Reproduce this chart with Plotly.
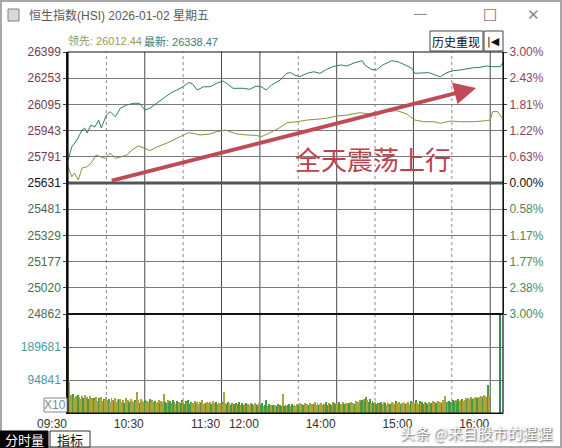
import plotly.graph_objects as go

DAY = "2026-01-02"

# ---------------- data ----------------
price_times = ["09:30","09:33","09:37","09:41","09:43","09:45","09:48","09:51","09:54","09:56",
               "10:00","10:03","10:07","10:11","10:16","10:21","10:26","10:30","10:34","10:39",
               "10:44","10:50","10:55","11:00","11:04","11:07","11:11","11:16","11:21","11:26",
               "11:31","11:34","11:39","11:47","11:52","11:57","13:01","13:05","13:09","13:16",
               "13:21","13:24","13:27","13:31","13:37","13:42","13:47","13:52","13:57","14:03",
               "14:08","14:14","14:20","14:22","14:27","14:31","14:36","14:43","14:48","14:53",
               "14:59","15:01","15:06","15:12","15:17","15:21","15:26","15:31","15:36","15:42",
               "15:47","15:52","15:57","16:01","16:08","16:10"]
price_values = [25765,25843,25883,25941,25953,25924,25971,25959,26000,25953,
                26029,26049,26019,26070,26088,26098,26098,26059,26069,26098,
                26127,26157,26176,26195,26219,26215,26176,26195,26195,26215,
                26229,26215,26186,26186,26180,26199,26195,26176,26205,26235,
                26274,26278,26264,26254,26274,26283,26274,26297,26313,26323,
                26317,26336,26348,26323,26297,26293,26323,26348,26342,26323,
                26303,26274,26274,26278,26264,26254,26278,26289,26293,26303,
                26307,26309,26317,26313,26313,26338]

lead_times = ["09:30","09:33","09:35","09:38","09:41","09:45","09:48","09:52","09:55","09:59",
              "10:03","10:07","10:12","10:16","10:20","10:25","10:30","10:34","10:39","10:44",
              "10:50","10:55","11:00","11:04","11:08","11:13","11:21","11:26","11:33","11:37",
              "11:42","11:50","11:57","13:01","13:07","13:16","13:21","13:29","13:37","13:44",
              "13:52","14:00","14:08","14:18","14:25","14:31","14:39","14:47","14:55","15:01",
              "15:08","15:16","15:21","15:29","15:36","15:47","15:57","16:00","16:02","16:06","16:09"]
lead_values = [25726,25667,25689,25648,25718,25726,25746,25795,25785,25775,
               25805,25775,25785,25795,25824,25848,25834,25820,25840,25853,
               25873,25893,25912,25925,25922,25912,25918,25931,25941,25931,
               25918,25912,25910,25902,25922,25957,25984,25990,26000,26004,
               26010,26023,26029,26043,26035,26029,26049,26055,26035,26000,
               25990,25990,25981,25994,25990,25990,25996,26000,26049,26049,26012]

# volume per minute, in thousands (09:30-11:59, 13:00-15:59)
vol_morning_k = [244,88,52,47,55,44,50,41,53,46,
                 39,48,43,51,37,45,40,49,36,44,
                 42,38,47,35,43,39,46,34,41,37,
                 45,36,40,33,44,38,35,42,31,39,
                 36,41,33,38,30,43,34,37,32,40,
                 35,31,38,33,61,36,30,39,34,32,
                 37,29,35,33,40,28,36,31,34,30,
                 33,38,29,35,31,55,32,28,36,30,
                 34,29,37,31,27,35,30,33,28,36,
                 31,27,34,29,38,26,32,30,28,35,
                 29,33,26,31,28,36,27,30,25,32,
                 28,31,26,34,29,27,33,25,30,28,
                 32,27,61,29,26,31,28,24,30,27,
                 25,29,23,27,31,24,28,22,26,29,
                 24,27,22,28,25,23,30,26,24,28]
vol_afternoon_k = [26,22,29,20,24,37,21,25,19,23,
                   22,18,24,20,26,19,23,21,55,20,
                   24,19,22,27,20,25,18,23,21,26,
                   22,28,20,25,23,30,21,26,24,29,
                   23,27,25,31,22,28,24,26,30,23,
                   27,25,32,24,29,26,23,31,28,25,
                   29,24,31,27,25,33,26,28,30,24,
                   28,32,25,30,27,35,29,33,38,31,
                   36,40,34,46,37,33,39,30,35,28,
                   32,27,30,25,29,33,26,31,28,24,
                   30,27,25,32,28,26,34,29,27,31,
                   26,30,28,33,25,29,31,27,35,30,
                   33,28,36,30,27,34,29,32,26,31,
                   29,27,33,30,28,35,26,31,29,34,
                   30,33,28,36,31,49,32,29,35,33,
                   31,36,34,38,32,40,35,37,39,34,
                   38,42,36,44,40,46,39,43,41,45,
                   42,47,44,49,45,51,48,46,80,50]
auction_time = "16:08"
auction_volume_k = 300

left_price_labels = ["26399","26253","26095","25943","25791","25631",
                     "25481","25329","25177","25020","24862"]
right_pct_labels = ["3.00%","2.43%","1.81%","1.22%","0.63%","0.00%",
                    "0.58%","1.17%","1.77%","2.38%","3.00%"]
vol_tick_values = [189681, 94841]
vol_tick_labels = ["189681", "94841"]
time_tick_values = ["09:30","10:30","11:30","13:00","14:00","15:00","16:00"]
time_tick_labels = ["09:30","10:30","11:30","12:00","14:00","15:00","16:00"]
prev_close = 25631
price_high, price_low = 26399, 24862
vol_unit = 94841
lead_last_text = "26012.44"
price_last_text = "26338.47"

# ---------------- helpers ----------------
def t(hm):
    return f"{DAY} {hm}"

def minutes(h0, m0, h1, m1):
    out = []
    h, m = h0, m0
    while (h, m) < (h1, m1):
        out.append(f"{h:02d}:{m:02d}")
        m += 1
        if m == 60:
            h, m = h + 1, 0
    return out

vol_times = minutes(9, 30, 12, 0) + minutes(13, 0, 16, 0) + [auction_time]
vol_values = [v * 1000 for v in vol_morning_k + vol_afternoon_k] + [auction_volume_k * 1000]

W, H = 562, 448
L, R, T, B = 68, 59, 52, 35
PW, PH = W - L - R, H - T - B
def px(x):
    return (x - L) / PW
def py(y):
    return (H - B - y) / PH

VOL_FRAC = 99 / PH

# bar colours (style): greenish in some windows, olive-yellow elsewhere
green_windows = [("10:45","11:05"),("11:35","11:50"),("13:00","13:25"),("13:50","14:00"),
                 ("14:18","14:36"),("15:05","15:12"),("15:28","15:35")]
YEL, GRN = "#ada33a", "#4a9a45"
bar_colors = []
for i, tm in enumerate(vol_times):
    in_g = any(a <= tm <= b for a, b in green_windows)
    if tm == auction_time:
        bar_colors.append("#2f8a5a")
    elif in_g:
        bar_colors.append(YEL if i % 3 == 0 else GRN)
    else:
        bar_colors.append(GRN if i % 4 == 0 else YEL)

MAROON, DKGREEN, TEAL = "#7a3a4e", "#4b6d4f", "#4a9aa2"
def lab_color(i):
    return MAROON if i < 5 else ("#111111" if i == 5 else DKGREEN)

n = len(left_price_labels)
price_tickvals = [price_high - i * (price_high - price_low) / (n - 1) for i in range(n)]
price_ticktext = [f"<span style='color:{lab_color(i)}'>{s}</span>" for i, s in enumerate(left_price_labels)]
pct_tickvals = [3 - i * 0.6 for i in range(n)]
pct_colors = ["#8a4656"] * 5 + ["#111111"] + ["#4d8a5a"] * 5
pct_ticktext = [f"<span style='color:{pct_colors[i]}'>{s}</span>" for i, s in enumerate(right_pct_labels)]

FONT = "Liberation Sans, Arial, sans-serif"
CJK = "Liberation Sans, Noto Sans CJK SC, sans-serif"
CJK_ONLY = "Noto Sans CJK SC, sans-serif"

fig = go.Figure()
fig.add_trace(go.Scatter(x=[t(s) for s in lead_times], y=lead_values, mode="lines",
                         line=dict(color="#8e8d42", width=1), xaxis="x", yaxis="y",
                         showlegend=False, hoverinfo="skip"))
fig.add_trace(go.Scatter(x=[t(s) for s in price_times], y=price_values, mode="lines",
                         line=dict(color="#2e7a6c", width=1), xaxis="x", yaxis="y",
                         showlegend=False, hoverinfo="skip"))
fig.add_trace(go.Bar(x=[t(s) for s in vol_times], y=vol_values, width=45000,
                     marker=dict(color=bar_colors, line=dict(width=0)),
                     xaxis="x", yaxis="y2", showlegend=False, hoverinfo="skip"))
fig.add_trace(go.Scatter(x=[t("09:30")], y=[0], mode="markers", marker=dict(opacity=0),
                         xaxis="x", yaxis="y3", showlegend=False, hoverinfo="skip"))

shapes = []
for hm in ["10:30","11:30","13:00","14:00","15:00","16:00"]:
    shapes.append(dict(type="line", xref="x", yref="paper", x0=t(hm), x1=t(hm), y0=0, y1=1,
                       line=dict(color="#4a4a4a", width=1), layer="below"))
for hm in ["10:00","11:00","13:30","14:30","15:30"]:
    shapes.append(dict(type="line", xref="x", yref="paper", x0=t(hm), x1=t(hm), y0=0, y1=1,
                       line=dict(color="#8a8a8a", width=1, dash="dot"), layer="below"))
shapes.append(dict(type="line", xref="paper", yref="y", x0=0, x1=1, y0=prev_close, y1=prev_close,
                   line=dict(color="#555555", width=3)))
shapes.append(dict(type="line", xref="paper", yref="paper", x0=0, x1=1, y0=VOL_FRAC, y1=VOL_FRAC,
                   line=dict(color="#111111", width=2)))
shapes.append(dict(type="rect", xref="paper", yref="paper", x0=0, x1=1, y0=0, y1=1,
                   line=dict(color="#111111", width=1.2)))
shapes.append(dict(type="rect", xref="paper", yref="paper", x0=px(1), x1=px(561), y0=py(447), y1=py(1),
                   line=dict(color="#a8a8a8", width=2)))
shapes.append(dict(type="rect", xref="paper", yref="paper", x0=px(8), x1=px(19), y0=py(21), y1=py(9),
                   line=dict(color="#808080", width=1), fillcolor="#d8d8d8"))
shapes.append(dict(type="rect", xref="paper", yref="paper", x0=px(430), x1=px(483), y0=py(51), y1=py(31),
                   line=dict(color="#444444", width=1), fillcolor="#ffffff"))
shapes.append(dict(type="rect", xref="paper", yref="paper", x0=px(484), x1=px(503), y0=py(51), y1=py(31),
                   line=dict(color="#444444", width=1), fillcolor="#ffffff"))
shapes.append(dict(type="rect", xref="paper", yref="paper", x0=px(0), x1=px(48), y0=py(448), y1=py(431),
                   line=dict(color="#000000", width=1), fillcolor="#000000"))
shapes.append(dict(type="rect", xref="paper", yref="paper", x0=px(50), x1=px(90), y0=py(447), y1=py(431),
                   line=dict(color="#333333", width=1), fillcolor="#ffffff"))
shapes.append(dict(type="rect", xref="paper", yref="paper", x0=px(44), x1=px(67), y0=py(412), y1=py(398),
                   line=dict(color="#7a8a9a", width=1), fillcolor="#ffffff"))

ann = []
def text(x, y, s, size=12, color="#333", family=FONT, xanchor="left", **kw):
    ann.append(dict(xref="paper", yref="paper", x=px(x), y=py(y), text=s, showarrow=False,
                    xanchor=xanchor, yanchor="middle", font=dict(size=size, color=color, family=family), **kw))

text(27, 15, "恒生指数(HSI) 2026-01-02 星期五", size=12, color="#5a5a5a", family=CJK)
text(420, 14, "—", size=13, color="#888888", xanchor="center")
text(490, 15, "☐", size=16, color="#777777", xanchor="center", family="DejaVu Sans")
text(533, 15, "✕", size=15, color="#888888", xanchor="center", family="DejaVu Sans")
text(66, 41, f"领先: {lead_last_text}", size=11, color="#9a9a55", family=CJK)
text(142, 41, f"最新: {price_last_text}", size=11, color="#3d7b7b", family=CJK)
text(456, 41, "历史重现", size=12, color="#111111", family=CJK_ONLY, xanchor="center")
text(493, 41, "|◀", size=11, color="#111111", family="DejaVu Sans", xanchor="center")
text(55, 405, "X10", size=12, color="#7a8a9a", xanchor="center")
text(24, 439, "分时量", size=13, color="#ffffff", family=CJK_ONLY, xanchor="center")
text(70, 439, "指标", size=13, color="#111111", family=CJK_ONLY, xanchor="center")
text(373, 158, "全天震荡上行", size=26, color="#b8434f", family=CJK_ONLY, xanchor="center")
text(476, 432, "头条 @来自股市的猩猩", size=15, color="#ffffff", family=CJK_ONLY, xanchor="center")
ann[-1]["font"]["shadow"] = "1px 1px 2px #444"

ann.append(dict(xref="x", yref="y", axref="x", ayref="y", x=t("15:49"), y=26188,
                ax=t("10:03"), ay=25642, text="", showarrow=True, arrowhead=2,
                arrowsize=1.1, arrowwidth=4, arrowcolor="#c04a56"))

fig.update_layout(
    width=W, height=H,
    margin=dict(l=L, r=R, t=T, b=B, pad=0),
    paper_bgcolor="#ffffff", plot_bgcolor="#ffffff",
    bargap=0, showlegend=False,
    font=dict(family=FONT, size=12, color="#333"),
    xaxis=dict(type="date", range=[t("09:30"), t("16:10")],
               rangebreaks=[dict(bounds=[12, 13], pattern="hour")],
               anchor="y2", tickvals=[t(v) for v in time_tick_values], ticktext=time_tick_labels,
               ticks="", showgrid=False, zeroline=False, showline=True, linecolor="#111", linewidth=1,
               tickfont=dict(size=12, color="#333"), ticklabelshift=-16, fixedrange=True),
    yaxis=dict(domain=[VOL_FRAC, 1], range=[price_low, price_high], anchor="x",
               tickvals=price_tickvals, ticktext=price_ticktext, tickmode="array",
               showgrid=True, gridcolor="#7a7a7a", gridwidth=1, zeroline=False,
               ticks="outside", ticklen=3, tickcolor="#444", showline=True, linecolor="#111", linewidth=1.5,
               tickfont=dict(size=12), fixedrange=True),
    yaxis2=dict(domain=[0, VOL_FRAC], range=[0, 3 * vol_unit], anchor="x",
                tickvals=vol_tick_values,
                ticktext=[f"<span style='color:{TEAL}'>{s}</span>" for s in vol_tick_labels],
                showgrid=True, gridcolor="#7a7a7a", gridwidth=1, zeroline=False,
                ticks="outside", ticklen=3, tickcolor="#444", showline=True, linecolor="#111", linewidth=1.5,
                tickfont=dict(size=12), fixedrange=True),
    yaxis3=dict(overlaying="y", side="right", anchor="x", range=[-3, 3],
                tickvals=pct_tickvals, ticktext=pct_ticktext, showgrid=False, zeroline=False,
                ticks="outside", ticklen=3, tickcolor="#444", showline=True, linecolor="#111",
                tickfont=dict(size=12), fixedrange=True),
    shapes=shapes, annotations=ann,
)

fig.write_html("out.html", config={"displayModeBar": False},
               post_script="document.body.style.margin='0px';document.body.style.overflow='hidden';")
